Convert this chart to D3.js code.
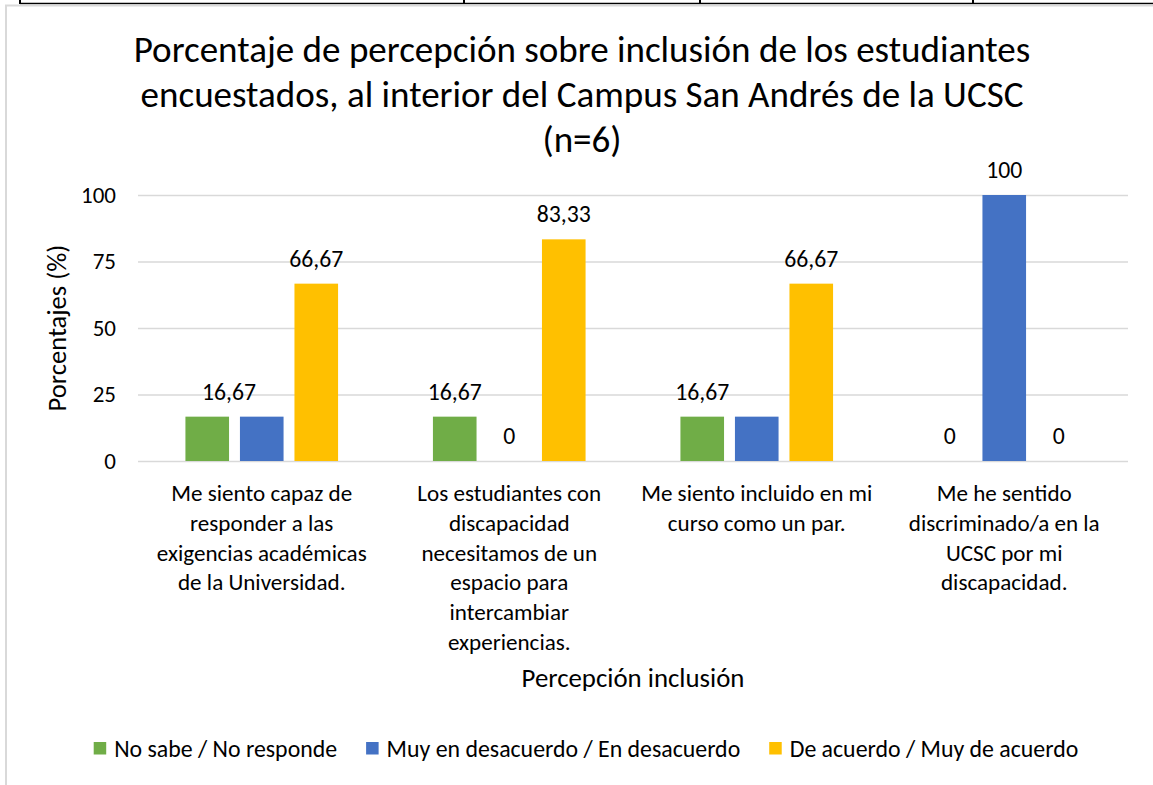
<!DOCTYPE html>
<html><head><meta charset="utf-8">
<script src="https://cdn.jsdelivr.net/npm/d3@7/dist/d3.min.js"></script>
<style>
html,body{margin:0;padding:0;background:#fff;}
svg{display:block;font-family:Calibri,Carlito,Lato,sans-serif;}
</style></head><body>
<svg id="c" width="1153" height="785"></svg>
<script>
// ---- data ----
const titleLines = ["Porcentaje de percepción sobre inclusión de los estudiantes",
  "encuestados, al interior del Campus San Andrés de la UCSC", "(n=6)"];
const categories = [
  ["Me siento capaz de","responder a las","exigencias académicas","de la Universidad."],
  ["Los estudiantes con","discapacidad","necesitamos de un","espacio para","intercambiar","experiencias."],
  ["Me siento incluido en mi","curso como un par."],
  ["Me he sentido","discriminado/a en la","UCSC por mi","discapacidad."]
];
const seriesNames = ["No sabe / No responde","Muy en desacuerdo / En desacuerdo","De acuerdo / Muy de acuerdo"];
const noSabe = [16.67, 16.67, 16.67, 0];
const desacuerdo = [16.67, 0, 16.67, 100];
const deAcuerdo = [66.67, 83.33, 66.67, 0];
const yTicks = [0, 25, 50, 75, 100];
const yTitle = "Porcentajes (%)";
const xTitle = "Percepción inclusión";
// labels not displayed in the original (category index, series index)
const hiddenLabels = [[0,1],[2,1]];

const colors = ["#70ad47","#4472c4","#ffc000"];
const values = [noSabe, desacuerdo, deAcuerdo];

const svg = d3.select("#c");
const fmt = v => (Math.round(v*100)/100).toString().replace(".", ",");

// helper: fit font size so text width matches target
function fitSize(text, target, base) {
  const t = svg.append("text").attr("font-size", base).text(text);
  const w = t.node().getComputedTextLength();
  t.remove();
  return base * target / w;
}

// page frame
svg.append("line").attr("x1",20).attr("x2",1153).attr("y1",3.5).attr("y2",3.5).attr("stroke","#000").attr("stroke-width",1.5);
[20,464,700,973].forEach(x=>svg.append("line").attr("x1",x).attr("x2",x).attr("y1",0).attr("y2",4).attr("stroke","#000").attr("stroke-width",2));
svg.append("rect").attr("x",6).attr("y",5.5).attr("width",1160).attr("height",800).attr("fill","none").attr("stroke","#d9d9d9").attr("stroke-width",2);

const m = {left:138, right:1128, top:195, bottom:461};
const x0 = d3.scaleBand().domain(d3.range(categories.length)).range([m.left, m.right]);
const x1 = d3.scaleBand().domain(d3.range(seriesNames.length)).range([0, x0.bandwidth()]).paddingInner(0.2).paddingOuter(0.87);
const y = d3.scaleLinear().domain([0,100]).range([m.bottom, m.top]);

// title
const titleSize = fitSize(titleLines[0], 897, 30);
titleLines.forEach((l,i)=>svg.append("text").attr("x",582).attr("y",62+45*i).attr("text-anchor","middle")
  .attr("font-size",titleSize).attr("fill","#000").text(l));

// grid + y axis
const tickSize = fitSize("100", 35, 20);
const yAxis = d3.axisLeft(y).tickValues(yTicks).tickSize(-(m.right-m.left)).tickPadding(22).tickFormat(d3.format("d"));
const gy = svg.append("g").attr("transform",`translate(${m.left},0)`).call(yAxis);
gy.select(".domain").remove();
gy.selectAll(".tick line").attr("stroke","#d9d9d9").attr("stroke-width",1.5);
gy.selectAll(".tick text").attr("font-size",tickSize).attr("fill","#000").attr("font-family","Calibri,Carlito,Lato,sans-serif");

// bars
const flat = [];
categories.forEach((c,ci)=>values.forEach((s,si)=>flat.push({ci,si,v:s[ci]})));
svg.append("g").selectAll("rect").data(flat.filter(d=>d.v>0)).join("rect")
  .attr("x",d=>x0(d.ci)+x1(d.si)).attr("width",x1.bandwidth())
  .attr("y",d=>y(d.v)).attr("height",d=>y(0)-y(d.v)).attr("fill",d=>colors[d.si]);

// data labels
const labSize = fitSize("66,67", 54, 20);
const isHidden = d => hiddenLabels.some(h=>h[0]===d.ci && h[1]===d.si);
svg.append("g").selectAll("text").data(flat.filter(d=>!isHidden(d))).join("text")
  .attr("x",d=>{
    let cx = x0(d.ci)+x1(d.si)+x1.bandwidth()/2;
    // first group: green label sits between green and blue bars (overlap avoidance)
    if (d.ci===0 && d.si===0) cx += x1.step()*0.4;
    return cx;
  })
  .attr("y",d=>y(d.v)-17).attr("text-anchor","middle").attr("font-size",labSize).attr("fill","#000")
  .text(d=>fmt(d.v));

// category labels
const catSize = fitSize("exigencias académicas", 210, 20);
categories.forEach((lines,ci)=>{
  const t = svg.append("text").attr("text-anchor","middle").attr("font-size",catSize).attr("fill","#000");
  lines.forEach((l,li)=>t.append("tspan").attr("x",x0(ci)+x0.bandwidth()/2).attr("y",501+29.8*li).text(l));
});

// axis titles
const xtSize = fitSize(xTitle, 223, 20);
svg.append("text").attr("x",633).attr("y",687).attr("text-anchor","middle").attr("font-size",xtSize).attr("fill","#000").text(xTitle);
const ytSize = fitSize(yTitle, 167, 20);
svg.append("text").attr("transform","translate(66,328) rotate(-90)").attr("text-anchor","middle").attr("font-size",ytSize).attr("fill","#000").text(yTitle);

// legend
const legSize = fitSize(seriesNames[0], 223, 20);
const sq = 12.5, gapT = 8, gapI = 29;
const widths = seriesNames.map(n=>{const t=svg.append("text").attr("font-size",legSize).text(n);const w=t.node().getComputedTextLength();t.remove();return w;});
const total = d3.sum(widths) + seriesNames.length*(sq+gapT) + (seriesNames.length-1)*gapI;
let lx = 586 - total/2;
const lg = svg.append("g");
seriesNames.forEach((n,i)=>{
  lg.append("rect").attr("x",lx).attr("y",742).attr("width",sq).attr("height",sq).attr("fill",colors[i]);
  lg.append("text").attr("x",lx+sq+gapT).attr("y",748.5).attr("dy","0.35em").attr("font-size",legSize).attr("fill","#000").text(n);
  lx += sq+gapT+widths[i]+gapI;
});
</script>
</body></html>
